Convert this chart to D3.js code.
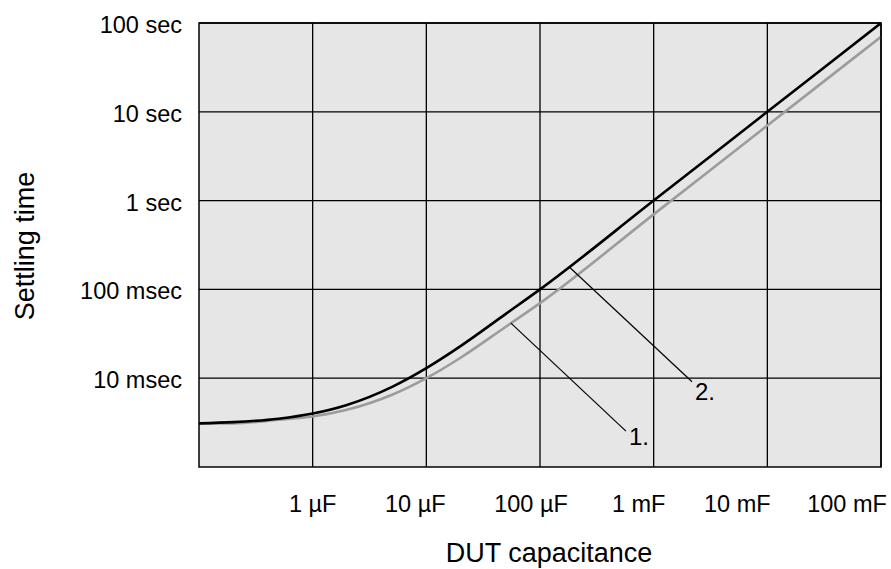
<!DOCTYPE html>
<html>
<head>
<meta charset="utf-8">
<script src="https://cdn.jsdelivr.net/npm/d3@7"></script>
<style>
  body { margin: 0; background: #fff; }
  svg text { font-family: "Liberation Sans", Arial, sans-serif; fill: #000; }
</style>
</head>
<body>
<svg id="chart" width="891" height="569"></svg>
<script>
// data (farads / seconds)
const capacitance = [1e-7, 2e-7, 5e-7, 1e-6, 2e-6, 5e-6, 1e-5, 2e-5, 5e-5, 1e-4, 1e-3, 1e-2, 1e-1];
const settling2 = [0.0031, 0.0032, 0.0035, 0.0040, 0.0050, 0.0080, 0.013, 0.023, 0.053, 0.10, 1.0, 10, 100];
const settling1 = [0.0031, 0.0031, 0.0034, 0.0037, 0.0044, 0.0065, 0.010, 0.017, 0.038, 0.070, 0.70, 7.0, 70];

const xTicks = [1e-6, 1e-5, 1e-4, 1e-3, 1e-2, 1e-1];
const xTickLabels = ["1 µF", "10 µF", "100 µF", "1 mF", "10 mF", "100 mF"];
const yTicks = [1e-2, 1e-1, 1, 10, 100];
const yTickLabels = ["10 msec", "100 msec", "1 sec", "10 sec", "100 sec"];

// leader callouts: name, capacitance where it touches its curve
const calloutNames = ["1.", "2."];
const calloutAt = [5.55e-5, 1.8e-4];

const svg = d3.select("#chart");
const pLeft = 199, pRight = 881, pTop = 23, pBottom = 467;

const x = d3.scaleLog().domain([1e-7, 1e-1]).range([pLeft, pRight]);
const y = d3.scaleLog().domain([1e-3, 1e2]).range([pBottom, pTop]);

// plot background
svg.append("rect")
  .attr("x", pLeft).attr("y", pTop)
  .attr("width", pRight - pLeft).attr("height", pBottom - pTop)
  .attr("fill", "#e6e6e6");

// grid
svg.append("g").selectAll("line").data(xTicks).enter().append("line")
  .attr("x1", d => x(d)).attr("x2", d => x(d))
  .attr("y1", pTop).attr("y2", pBottom)
  .attr("stroke", "#000").attr("stroke-width", 1.3);
svg.append("g").selectAll("line").data(yTicks).enter().append("line")
  .attr("x1", pLeft).attr("x2", pRight)
  .attr("y1", d => y(d)).attr("y2", d => y(d))
  .attr("stroke", "#000").attr("stroke-width", 1.3);

svg.append("clipPath").attr("id", "clip").append("rect")
  .attr("x", pLeft).attr("y", pTop - 2)
  .attr("width", pRight - pLeft).attr("height", pBottom - pTop + 2);

// curves
const line = d3.line()
  .x(d => x(d[0])).y(d => y(d[1]))
  .curve(d3.curveMonotoneX);

const curves = [
  { vals: settling1, color: "#9c9c9c" },
  { vals: settling2, color: "#000" }
];
const cg = svg.append("g").attr("clip-path", "url(#clip)");
curves.forEach(c => {
  cg.append("path")
    .datum(capacitance.map((v, i) => [v, c.vals[i]]))
    .attr("d", line)
    .attr("fill", "none")
    .attr("stroke", c.color)
    .attr("stroke-width", 2.6)
    .attr("stroke-linejoin", "round");
});

// frame
svg.append("rect")
  .attr("x", pLeft).attr("y", pTop)
  .attr("width", pRight - pLeft).attr("height", pBottom - pTop)
  .attr("fill", "none").attr("stroke", "#000").attr("stroke-width", 1.5);

// callouts
function valueAt(vals, c) {
  const lx = Math.log10(c);
  for (let i = 1; i < capacitance.length; i++) {
    const a = Math.log10(capacitance[i - 1]), b = Math.log10(capacitance[i]);
    if (lx <= b) {
      const t = (lx - a) / (b - a);
      return Math.pow(10, Math.log10(vals[i - 1]) + t * (Math.log10(vals[i]) - Math.log10(vals[i - 1])));
    }
  }
  return vals[vals.length - 1];
}
const calloutSeries = [settling1, settling2];
const leader = [[115, 108], [123, 115]];
calloutNames.forEach((name, i) => {
  const px = x(calloutAt[i]);
  const py = y(valueAt(calloutSeries[i], calloutAt[i]));
  const ex = px + leader[i][0], ey = py + leader[i][1];
  svg.append("line")
    .attr("x1", px).attr("y1", py)
    .attr("x2", ex).attr("y2", ey)
    .attr("stroke", "#000").attr("stroke-width", 1.2);
  svg.append("text")
    .attr("x", ex + 3).attr("y", ey + 14 + i * 4)
    .attr("font-size", 24)
    .text(name);
});

// x tick labels (hand placed in the original, nudged a bit left)
const xNudge = [0, -11, -9, -15, -30, -34];
svg.append("g").selectAll("text").data(xTicks).enter().append("text")
  .attr("x", (d, i) => x(d) + xNudge[i])
  .attr("y", 512)
  .attr("text-anchor", "middle")
  .attr("font-size", 23.5)
  .text((d, i) => xTickLabels[i]);

// y tick labels
svg.append("g").selectAll("text").data(yTicks).enter().append("text")
  .attr("x", 182)
  .attr("y", d => y(d) + 10)
  .attr("text-anchor", "end")
  .attr("font-size", 23.5)
  .text((d, i) => yTickLabels[i]);

// axis titles
svg.append("text")
  .attr("x", 549).attr("y", 562)
  .attr("text-anchor", "middle")
  .attr("font-size", 27)
  .text("DUT capacitance");
svg.append("text")
  .attr("transform", "translate(34,246) rotate(-90)")
  .attr("text-anchor", "middle")
  .attr("font-size", 27)
  .text("Settling time");
</script>
</body>
</html>
